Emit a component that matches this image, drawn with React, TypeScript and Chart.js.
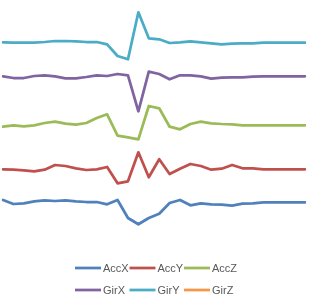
import React, { useEffect, useRef } from "react";
import { Chart, registerables } from "chart.js";

Chart.register(...registerables);

const categories = Array.from({ length: 30 }, (_, i) => String(i + 1));

const seriesNames = ["AccX", "AccY", "AccZ", "GirX", "GirY", "GirZ"];
const seriesColors = ["#4F81BD", "#C0504D", "#9BBB59", "#8064A2", "#4BACC6", "#F79646"];

const accX = [40, 36, 36.7, 38.7, 39.7, 39, 39.7, 38.7, 38, 38, 35.7, 40, 22, 15.7, 22, 26.3, 37, 40, 34.7, 36.7, 35.7, 35.3, 34.3, 36.3, 36.7, 37.7, 37.7, 37.7, 37.7, 37.7];
const accY = [70.7, 70.3, 69.7, 68.7, 70.3, 75, 74, 71.7, 70, 70.7, 73, 56.7, 58.7, 87.7, 62.7, 80.7, 66, 71.3, 76, 74, 70.3, 71.3, 75, 71.7, 71.7, 70.7, 70.7, 70.7, 70.7, 70.7];
const accZ = [113.3, 114.7, 113.7, 114.7, 117, 118.3, 116.3, 115.3, 117, 122, 125.7, 104.3, 102.7, 100.7, 134, 131.7, 113.3, 110.7, 116, 118.3, 116.7, 116, 115.7, 114.7, 114.7, 114.7, 114.7, 114.7, 114.7, 114.7];
const girX = [163.7, 162, 162, 164, 164.7, 163.7, 161.7, 161.7, 163, 164.7, 164, 166, 164.7, 128.7, 168.3, 166, 160.7, 164.7, 164.7, 163.7, 161.3, 162.3, 162.7, 162.7, 163.3, 163.7, 163.7, 163.7, 163.7, 163.7];
const girY = [197.7, 197.3, 197.3, 197.3, 198, 199, 199, 198.7, 198, 198, 195.7, 184, 180.7, 227.7, 201.7, 200.7, 197, 197.7, 198.7, 197.7, 196.7, 195.7, 196.3, 196.7, 196.7, 197.3, 197.3, 197.3, 197.3, 197.3];
const girZ: number[] = [];

const seriesValues = [accX, accY, accZ, girX, girY, girZ];

const gridLegend = {
  id: "gridLegend",
  afterDraw(chart: any) {
    const ctx = chart.ctx;
    const ds = chart.data.datasets;
    ctx.save();
    ctx.font = "11px 'Liberation Sans', Arial, sans-serif";
    ctx.textBaseline = "middle";
    ctx.textAlign = "left";
    const startX = chart.width / 2 - 83;
    ds.forEach((d: any, i: number) => {
      const col = i % 3;
      const row = Math.floor(i / 3);
      const x = startX + col * 54.5;
      const y = 268 + row * 22;
      ctx.strokeStyle = d.borderColor;
      ctx.lineWidth = 2.75;
      ctx.lineCap = "butt";
      ctx.beginPath();
      ctx.moveTo(x, y);
      ctx.lineTo(x + 26, y);
      ctx.stroke();
      ctx.fillStyle = "#595959";
      ctx.fillText(d.label, x + 28, y + 0.5);
    });
    ctx.restore();
  },
};

export default function App() {
  const ref = useRef<HTMLCanvasElement>(null);
  useEffect(() => {
    if (!ref.current) return;
    const chart = new Chart(ref.current, {
      type: "line",
      data: {
        labels: categories,
        datasets: seriesNames.map((name, i) => ({
          label: name,
          data: seriesValues[i],
          borderColor: seriesColors[i],
          backgroundColor: seriesColors[i],
          borderWidth: 2.75,
          pointRadius: 0,
          tension: 0,
          borderJoinStyle: "round" as const,
          borderCapStyle: "round" as const,
          fill: false,
        })),
      },
      options: {
        animation: false,
        responsive: false,
        devicePixelRatio: 1,
        layout: { padding: { left: 3, right: 11, top: 0, bottom: 62 } },
        plugins: { legend: { display: false }, tooltip: { enabled: false } },
        scales: {
          x: { type: "category", display: false, offset: false },
          y: { type: "linear", display: false, min: 0, max: 240 },
        },
      },
      plugins: [gridLegend],
    });
    return () => chart.destroy();
  }, []);
  return (
    <div style={{ position: "absolute", left: 0, top: 0, width: 316, height: 302, background: "#fff" }}>
      <canvas ref={ref} width={316} height={302} style={{ width: 316, height: 302, display: "block" }} />
    </div>
  );
}
